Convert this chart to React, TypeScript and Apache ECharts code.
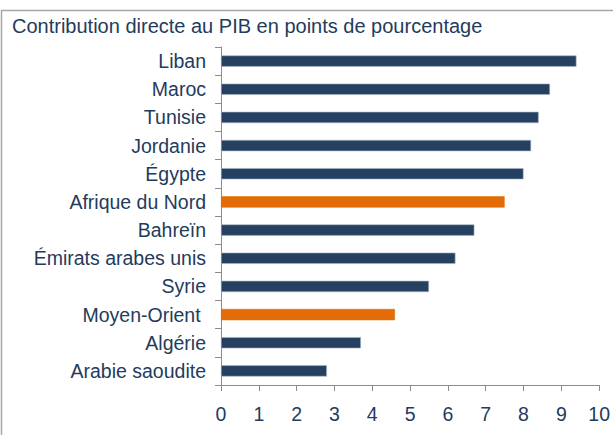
import React, { useEffect, useRef } from "react";
import * as echarts from "echarts";

const categories = [
  "Arabie saoudite",
  "Algérie",
  "Moyen-Orient ",
  "Syrie",
  "Émirats arabes unis",
  "Bahreïn",
  "Afrique du Nord",
  "Égypte",
  "Jordanie",
  "Tunisie",
  "Maroc",
  "Liban",
];
const values = [2.8, 3.7, 4.6, 5.5, 6.2, 6.7, 7.5, 8.0, 8.2, 8.4, 8.7, 9.4];
const highlighted = ["Afrique du Nord", "Moyen-Orient "];
const xTicks = [0, 10, 1];
const title = "Contribution directe au PIB en points de pourcentage";

const NAVY = "#264062";
const ORANGE = "#e36c09";
const TEXT = "#243b5c";
const FONT = "'Liberation Sans', Arial, sans-serif";
const FS = 19.5;

export default function App() {
  const ref = useRef<HTMLDivElement>(null);
  useEffect(() => {
    if (!ref.current) return;
    const chart = echarts.init(ref.current, null, { renderer: "svg" });
    chart.setOption({
      animation: false,
      backgroundColor: "#ffffff",
      textStyle: { fontFamily: FONT },
      graphic: [
        {
          type: "rect",
          shape: { x: 1.5, y: 10.5, width: 640, height: 460 },
          style: { fill: "none", stroke: "#a6a6a6", lineWidth: 1.5 },
          silent: true,
        },
        {
          type: "text",
          left: 12,
          top: 16,
          style: {
            text: title,
            fill: TEXT,
            font: `20px ${FONT}`,
          },
        },
      ],
      grid: { left: 221, right: 13, top: 47, bottom: 50, containLabel: false },
      xAxis: {
        type: "value",
        min: xTicks[0],
        max: xTicks[1],
        interval: xTicks[2],
        splitLine: { show: false },
        axisLine: { show: true, lineStyle: { color: "#8c8c8c", width: 1 } },
        axisTick: { show: true, length: 6, lineStyle: { color: "#8c8c8c" } },
        axisLabel: {
          color: TEXT,
          fontSize: FS,
          margin: 19,
          fontFamily: FONT,
        },
      },
      yAxis: {
        type: "category",
        data: categories,
        axisLine: { show: true, lineStyle: { color: "#8c8c8c", width: 1 } },
        axisTick: { show: true, length: 6, lineStyle: { color: "#8c8c8c" } },
        axisLabel: {
          color: TEXT,
          fontSize: FS,
          margin: 15,
          fontFamily: FONT,
        },
      },
      series: [
        {
          type: "bar",
          barCategoryGap: "60%",
          data: categories.map((c, i) => ({
            value: values[i],
            itemStyle: {
              color: highlighted.includes(c) ? ORANGE : NAVY,
              borderColor: highlighted.includes(c) ? ORANGE : "#a9b6c8",
              borderWidth: 0.6,
            },
          })),
        },
      ],
    });
    return () => chart.dispose();
  }, []);
  return <div ref={ref} style={{ width: 613, height: 435, position: "absolute", left: 0, top: 0 }} />;
}
